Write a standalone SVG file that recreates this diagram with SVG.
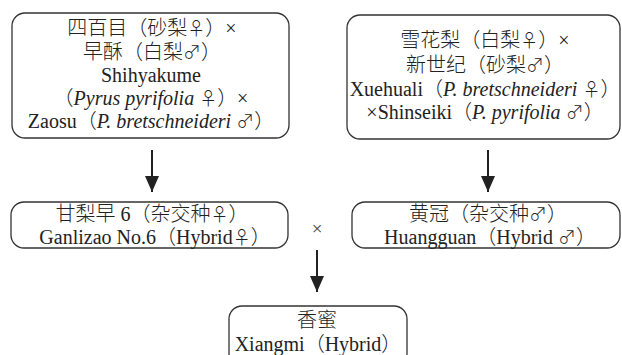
<svg xmlns="http://www.w3.org/2000/svg" width="622" height="355" viewBox="0 0 622 355">
<defs>
<style>
.box{fill:#fff;stroke:#333;stroke-width:1.3}
.t{font-family:"Liberation Serif","Noto Sans CJK SC",serif;font-size:20px;font-weight:300;fill:#222;text-anchor:middle}
.i{font-style:italic}
.s{font-family:"Noto Sans CJK SC",sans-serif;font-style:normal;font-size:18px}
.con{stroke:#222;stroke-width:2;fill:none}
</style>
<marker id="ah2" viewBox="0 0 16 14" refX="16" refY="7" markerWidth="16" markerHeight="14" markerUnits="userSpaceOnUse" orient="auto">
<path d="M0,0 L16,7 L0,14 z" fill="#222"/>
</marker>
</defs>
<rect width="622" height="355" fill="#fff"/>
<g id="node-shihyakume-zaosu">
<rect class="box" x="12" y="13" width="277" height="125" rx="13"/>
<text class="t" x="152" y="35">四百目（砂梨<tspan class="s">♀</tspan>）×</text>
<text class="t" x="152" y="59">早酥（白梨<tspan class="s">♂</tspan>）</text>
<text class="t" x="151" y="82">Shihyakume</text>
<text class="t" x="151" y="105">（<tspan class="i">Pyrus pyrifolia</tspan> <tspan class="s">♀</tspan>）×</text>
<text class="t" x="151" y="128">Zaosu（<tspan class="i">P. bretschneideri</tspan> <tspan class="s">♂</tspan>）</text>
</g>
<g id="node-xuehuali-shinseiki">
<rect class="box" x="347" y="15" width="273" height="124" rx="13"/>
<text class="t" x="485" y="47">雪花梨（白梨<tspan class="s">♀</tspan>）×</text>
<text class="t" x="485" y="72">新世纪（砂梨<tspan class="s">♂</tspan>）</text>
<text class="t" x="485" y="96">Xuehuali（<tspan class="i">P. bretschneideri</tspan> <tspan class="s">♀</tspan>）</text>
<text class="t" x="485" y="119">×Shinseiki（<tspan class="i">P. pyrifolia</tspan> <tspan class="s">♂</tspan>）</text>
</g>
<g id="node-ganlizao">
<rect class="box" x="11" y="202" width="277" height="46" rx="13"/>
<text class="t" x="152" y="221">甘梨早 6（杂交种<tspan class="s">♀</tspan>）</text>
<text class="t" x="155" y="244">Ganlizao No.6（Hybrid<tspan class="s">♀</tspan>）</text>
</g>
<g id="node-huangguan">
<rect class="box" x="352" y="202" width="268" height="46" rx="13"/>
<text class="t" x="488" y="221">黄冠（杂交种<tspan class="s">♂</tspan>）</text>
<text class="t" x="490" y="244">Huangguan（Hybrid <tspan class="s">♂</tspan>）</text>
</g>
<g id="node-xiangmi">
<rect class="box" x="229" y="306" width="178" height="60" rx="13"/>
<text class="t" x="317" y="327">香蜜</text>
<text class="t" x="318" y="351">Xiangmi（Hybrid）</text>
</g>
<g id="connectors">
<line class="con" x1="152" y1="150" x2="152" y2="192" marker-end="url(#ah2)"/>
<line class="con" x1="488" y1="150" x2="488" y2="192" marker-end="url(#ah2)"/>
<line class="con" x1="317" y1="250" x2="317" y2="292" marker-end="url(#ah2)"/>
<text class="t" x="317" y="235" style="font-size:19px;fill:#444">×</text>
</g>
</svg>
